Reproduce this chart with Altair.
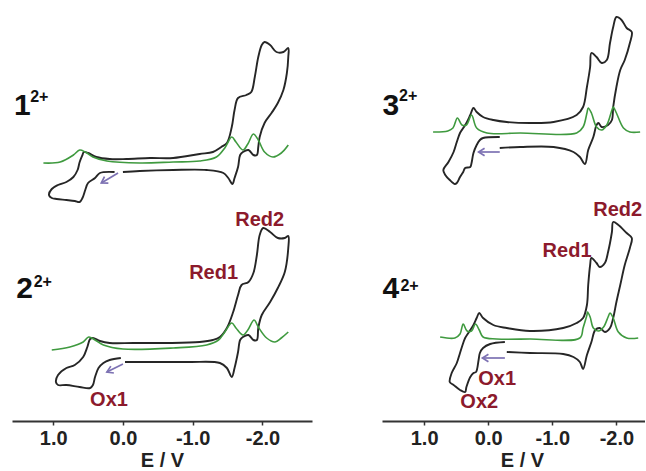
import altair as alt
import pandas as pd

# ---------------- data (E in V, I in arbitrary units) -------------
# Left column: compounds 1 (top) and 2 (bottom)
cv1_E = [0.12, 0.33, 0.40, 0.50, 0.54, 0.58, 0.62, 0.69, 0.81, 0.95,
         1.02, 1.06, 1.02, 0.93, 0.81, 0.71, 0.65, 0.62, 0.58, 0.56,
         0.50, 0.38, 0.19, -0.05, -0.39, -0.72, -1.10, -1.29, -1.41, -1.49,
         -1.56, -1.60, -1.65, -1.77, -1.84, -1.89, -1.94, -1.99, -2.03, -2.11,
         -2.20, -2.30, -2.37, -2.37, -2.35, -2.30, -2.22, -2.13, -2.03, -1.96,
         -1.94, -1.92, -1.87, -1.80, -1.72, -1.68, -1.65, -1.60, -1.57, -1.51,
         -1.44, -1.20, -0.72, -0.24, 0.00]
cv1_I = [249, 248, 243, 238, 231, 223, 219, 220, 221, 222,
         223, 226, 232, 236, 239, 244, 251, 259, 266, 269,
         268, 264, 262, 262, 263, 263, 267, 269, 274, 278,
         294, 311, 323, 326, 329, 344, 364, 376, 379, 376,
         369, 369, 373, 364, 348, 331, 318, 308, 298, 284,
         274, 266, 266, 271, 269, 266, 254, 243, 237, 243,
         248, 251, 251, 250, 249]
dpv1_E = [1.14, 0.90, 0.71, 0.62, 0.54, 0.43, 0.23, -0.24, -0.72, -1.10, -1.34,
          -1.46, -1.56, -1.62, -1.72, -1.79, -1.87, -1.94, -2.03, -2.15, -2.27, -2.37]
dpv1_I = [258, 259, 266, 271, 269, 264, 260, 258, 259, 260, 264,
          273, 284, 279, 271, 277, 287, 281, 269, 264, 268, 276]

cv2_E = [0.03, 0.19, 0.28, 0.35, 0.40, 0.43, 0.47, 0.62, 0.81, 0.93,
         0.96, 0.93, 0.81, 0.69, 0.57, 0.51, 0.47, 0.43, 0.33, 0.19,
         -0.15, -0.63, -1.10, -1.29, -1.39, -1.49, -1.58, -1.65, -1.70, -1.80,
         -1.87, -1.92, -1.96, -2.01, -2.11, -2.22, -2.32, -2.37, -2.37, -2.32,
         -2.22, -2.11, -1.99, -1.94, -1.92, -1.87, -1.80, -1.72, -1.68, -1.65,
         -1.60, -1.56, -1.49, -1.39, -0.96, -0.48, -0.03]
cv2_I = [63, 61, 58, 53, 44, 36, 33, 34, 36, 36,
         39, 46, 53, 56, 64, 74, 82, 83, 80, 78,
         78, 78, 79, 81, 84, 93, 109, 126, 136, 139,
         148, 166, 186, 193, 189, 183, 183, 185, 173, 149,
         133, 119, 106, 93, 81, 81, 86, 84, 81, 69,
         53, 44, 53, 58, 59, 59, 59]
dpv2_E = [1.02, 0.76, 0.57, 0.49, 0.40, 0.28, 0.00, -0.72, -1.20, -1.37, -1.46,
          -1.56, -1.62, -1.72, -1.79, -1.88, -1.94, -2.06, -2.18, -2.27, -2.37]
dpv2_I = [71, 74, 79, 84, 81, 76, 72, 73, 76, 81, 89,
          98, 93, 86, 91, 101, 94, 83, 79, 83, 89]

# Right column: compounds 3 (top) and 4 (bottom)
cv3_E = [-0.18, 0.08, 0.13, 0.18, 0.23, 0.26, 0.28, 0.36, 0.39, 0.44,
         0.49, 0.52, 0.60, 0.67, 0.70, 0.62, 0.54, 0.49, 0.44, 0.39,
         0.34, 0.28, 0.23, 0.18, 0.08, -0.08, -0.29, -0.65, -1.02, -1.38,
         -1.48, -1.54, -1.59, -1.61, -1.69, -1.77, -1.85, -1.90, -1.95, -2.00,
         -2.08, -2.16, -2.24, -2.21, -2.13, -2.06, -2.00, -1.95, -1.93, -1.87,
         -1.77, -1.72, -1.69, -1.64, -1.56, -1.51, -1.43, -1.33, -1.02, -0.50,
         -0.18]
cv3_I = [284, 283, 281, 276, 268, 258, 254, 253, 249, 244,
         238, 237, 241, 246, 251, 259, 269, 279, 288, 293,
         298, 306, 313, 309, 304, 301, 299, 298, 299, 306,
         314, 334, 354, 368, 364, 358, 361, 378, 394, 404,
         401, 393, 389, 378, 361, 351, 334, 314, 301, 296,
         294, 298, 296, 284, 271, 257, 264, 269, 274, 274,
         273]
dpv3_E = [0.86, 0.63, 0.55, 0.48, 0.41, 0.34, 0.26, 0.18, 0.02, -0.50, -1.38, -1.48,
          -1.54, -1.56, -1.61, -1.69, -1.77, -1.85, -1.93, -1.95, -2.00, -2.11, -2.21, -2.37]
dpv3_I = [289, 290, 293, 303, 296, 296, 306, 293, 288, 288, 288, 294,
          308, 313, 308, 294, 291, 296, 311, 314, 308, 293, 289, 289]

cv4_E = [-0.26, -0.03, 0.08, 0.13, 0.15, 0.19, 0.23, 0.28, 0.34, 0.36,
         0.44, 0.54, 0.60, 0.57, 0.49, 0.44, 0.39, 0.36, 0.31, 0.23,
         0.18, 0.14, 0.08, -0.08, -0.29, -0.65, -1.17, -1.38, -1.48, -1.54,
         -1.56, -1.59, -1.61, -1.69, -1.74, -1.82, -1.87, -1.93, -1.95, -2.03,
         -2.16, -2.24, -2.21, -2.13, -2.06, -2.00, -1.95, -1.90, -1.82, -1.74,
         -1.67, -1.61, -1.54, -1.48, -1.43, -1.33, -1.17, -0.65, -0.29]
cv4_I = [79, 77, 73, 68, 61, 49, 48, 44, 34, 29,
         31, 36, 39, 48, 58, 68, 78, 83, 88, 96,
         103, 108, 103, 96, 93, 90, 93, 98, 103, 116,
         136, 156, 163, 158, 154, 158, 169, 189, 199, 196,
         188, 183, 173, 156, 136, 119, 103, 93, 89, 93,
         91, 79, 66, 52, 59, 64, 67, 68, 69]
dpv4_E = [0.75, 0.52, 0.44, 0.39, 0.33, 0.26, 0.20, 0.14, 0.08, -0.13, -0.65, -1.43, -1.48,
          -1.54, -1.55, -1.59, -1.64, -1.72, -1.80, -1.87, -1.90, -1.95, -2.03, -2.16, -2.34]
dpv4_I = [84, 83, 87, 97, 90, 90, 97, 91, 84, 82, 82, 83, 93,
          106, 109, 104, 93, 90, 94, 104, 108, 103, 89, 83, 83]

# scan-direction arrows: tail and head (E, I), head angle
arrowL_tailE = [0.07, 0.00]
arrowL_tailI = [248, 57]
arrowL_headE = [0.31, 0.23]
arrowL_headI = [238, 49]
arrowL_angle = [329, 336]
arrowR_tailE = [-0.18, -0.26]
arrowR_tailI = [269, 63]
arrowR_headE = [0.15, 0.09]
arrowR_headI = [269, 63]
arrowR_angle = [0, 0]

# compound names (digit + superscript charge)
nameL_digit = ["1", "2"]
nameL_digitE = [1.56, 1.53]
nameL_digitI = [306, 123]
nameL_supE = [1.33, 1.28]
nameL_supI = [319, 134]
nameR_digit = ["3", "4"]
nameR_digitE = [1.65, 1.65]
nameR_digitI = [306, 123]
nameR_supE = [1.39, 1.37]
nameR_supI = [320, 130]
charge = "2+"

# peak labels
peakL_text = ["Red2", "Red1", "Ox1"]
peakL_E = [-1.96, -1.30, 0.20]
peakL_I = [201, 148, 21]
peakR_text = ["Red2", "Red1", "Ox1", "Ox2"]
peakR_E = [-2.02, -1.23, -0.14, 0.14]
peakR_I = [211, 170, 42, 19]

ticks = [1, 0, -1, -2]

FONT = "Liberation Sans"
CV_COLOR = "#262626"
DPV_COLOR = "#3f9a3f"
LABEL_RED = "#8c1a2c"
ARROW_COLOR = "#7d72b3"


def trace(name, E, I):
    return pd.DataFrame({"trace": name, "E": E, "I": I, "idx": list(range(len(E)))})


def panel(cvs, dpvs, arrows, names, peaks, domain, width, title_x):
    xscale = alt.Scale(domain=domain, reverse=True, nice=False, zero=False)
    yscale = alt.Scale(domain=[0, 421], nice=False, zero=False)
    axis = alt.Axis(
        values=ticks,
        labelExpr="datum.value < 0 ? '-' + format(-datum.value, '.1f') : format(datum.value, '.1f')",
        labelFont=FONT, labelFontSize=20, labelFontWeight="bold", labelColor="#222222",
        labelPadding=3, labelOverlap=False, labelFlush=False,
        domainColor="#333333", domainWidth=2, tickColor="#333333", tickWidth=1.5, tickSize=4,
        grid=False, title="E / V", titleFont=FONT, titleFontSize=20, titleFontWeight="bold",
        titleColor="#222222", titlePadding=2, titleX=title_x, titleAlign="center",
    )
    x = alt.X("E:Q", scale=xscale, axis=axis)
    y = alt.Y("I:Q", scale=yscale, axis=None)

    cv_df = pd.concat([trace(n, e, i) for n, e, i in cvs], ignore_index=True)
    dpv_df = pd.concat([trace(n, e, i) for n, e, i in dpvs], ignore_index=True)

    cv = alt.Chart(cv_df).mark_line(color=CV_COLOR, strokeWidth=1.9, interpolate="catmull-rom").encode(
        x=x, y=y, detail="trace:N", order="idx:Q")
    dpv = alt.Chart(dpv_df).mark_line(color=DPV_COLOR, strokeWidth=1.6, interpolate="catmull-rom").encode(
        x=x, y=y, detail="trace:N", order="idx:Q")

    tE, tI, hE, hI, ang = arrows
    arr_df = pd.DataFrame({"tE": tE, "tI": tI, "E": hE, "I": hI, "angle": ang})
    shaft = alt.Chart(arr_df).mark_rule(color=ARROW_COLOR, strokeWidth=1.7).encode(
        x=alt.X("tE:Q", scale=xscale, axis=axis), y=alt.Y("tI:Q", scale=yscale, axis=None),
        x2="E:Q", y2="I:Q")
    head = alt.Chart(arr_df).mark_point(
        shape="M 1.6 -1 L 0 0 L 1.6 1", filled=False, size=56, color=ARROW_COLOR,
        strokeWidth=1.7, opacity=1).encode(x=x, y=y, angle=alt.Angle("angle:Q", scale=None))

    digits, dE, dI, sE, sI = names
    dig_df = pd.DataFrame({"t": digits, "E": dE, "I": dI})
    sup_df = pd.DataFrame({"t": [charge] * len(sE), "E": sE, "I": sI})
    dig = alt.Chart(dig_df).mark_text(font=FONT, fontSize=30, fontWeight="bold", color="#111111",
                                      align="left", baseline="alphabetic").encode(x=x, y=y, text="t:N")
    sup = alt.Chart(sup_df).mark_text(font=FONT, fontSize=16, fontWeight="bold", color="#111111",
                                      align="left", baseline="alphabetic").encode(x=x, y=y, text="t:N")

    pt, pE, pI = peaks
    pk_df = pd.DataFrame({"t": pt, "E": pE, "I": pI})
    pk = alt.Chart(pk_df).mark_text(font=FONT, fontSize=20, fontWeight="bold", color=LABEL_RED,
                                    align="center", baseline="middle").encode(x=x, y=y, text="t:N")

    return alt.layer(cv, dpv, shaft, head, dig, sup, pk).properties(width=width, height=421)


left = panel(
    [("c1", cv1_E, cv1_I), ("c2", cv2_E, cv2_I)],
    [("d1", dpv1_E, dpv1_I), ("d2", dpv2_E, dpv2_I)],
    (arrowL_tailE, arrowL_tailI, arrowL_headE, arrowL_headI, arrowL_angle),
    (nameL_digit, nameL_digitE, nameL_digitI, nameL_supE, nameL_supI),
    (peakL_text, peakL_E, peakL_I),
    [-2.71, 1.59], 300, 150,
)
right = panel(
    [("c3", cv3_E, cv3_I), ("c4", cv4_E, cv4_I)],
    [("d3", dpv3_E, dpv3_I), ("d4", dpv4_E, dpv4_I)],
    (arrowR_tailE, arrowR_tailI, arrowR_headE, arrowR_headI, arrowR_angle),
    (nameR_digit, nameR_digitE, nameR_digitI, nameR_supE, nameR_supI),
    (peakR_text, peakR_E, peakR_I),
    [-2.446, 1.657], 263, 140,
)

chart = (
    alt.hconcat(left, right, spacing=70)
    .resolve_scale(x="independent", y="independent")
    .properties(padding={"left": 12, "top": 0, "right": 0, "bottom": 0}, background="white")
    .configure_view(stroke=None)
)

chart.save("out.html", embed_options={"renderer": "svg", "actions": False})
